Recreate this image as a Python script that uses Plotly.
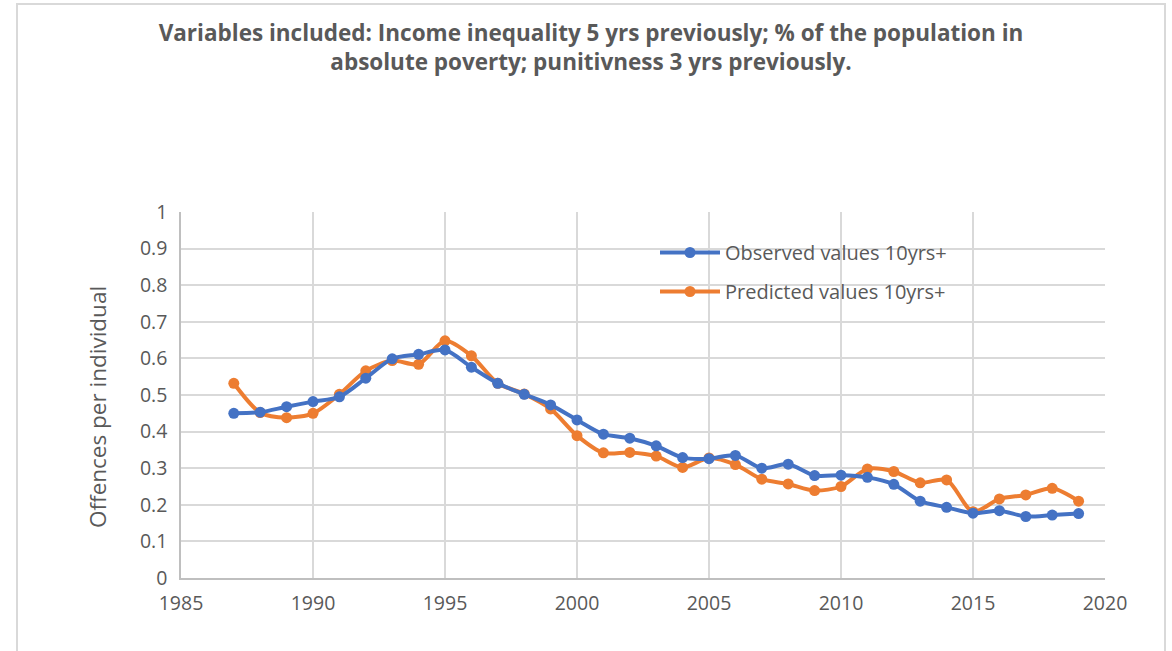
import plotly.graph_objects as go

# Years covered by the series
years = list(range(1987, 2020))

# Offences per individual, ages 10+
observed = [0.450, 0.453, 0.468, 0.482, 0.495, 0.546, 0.599, 0.611, 0.623, 0.576,
            0.532, 0.502, 0.473, 0.432, 0.393, 0.382, 0.361, 0.329, 0.326, 0.335,
            0.300, 0.311, 0.280, 0.281, 0.275, 0.256, 0.210, 0.193, 0.177, 0.184,
            0.168, 0.172, 0.176]
predicted = [0.532, 0.452, 0.438, 0.450, 0.502, 0.566, 0.594, 0.584, 0.648, 0.607,
             0.532, 0.503, 0.462, 0.389, 0.342, 0.343, 0.333, 0.302, 0.328, 0.310,
             0.270, 0.257, 0.239, 0.250, 0.298, 0.291, 0.260, 0.268, 0.181, 0.216,
             0.227, 0.245, 0.210]

series_names = ["Observed values 10yrs+", "Predicted values 10yrs+"]
series_colors = ["#4472C4", "#ED7D31"]

x_ticks = list(range(1985, 2021, 5))
y_ticks = [round(0.1 * i, 1) for i in range(11)]
y_tick_text = ["0", "0.1", "0.2", "0.3", "0.4", "0.5", "0.6", "0.7", "0.8", "0.9", "1"]

title_text = ("Variables included: Income inequality 5 yrs previously; % of the population in<br>"
              "absolute poverty; punitivness 3 yrs previously.")
y_title = "Offences per individual"

W, H = 1172, 651
font_family = "'Open Sans', sans-serif"
grey_text = "#595959"

fig = go.Figure()
# Predicted drawn first so the observed line sits on top; legend keeps observed first
series = list(zip(series_names, [observed, predicted], series_colors, [1, 2]))
for name, vals, color, rank in reversed(series):
    fig.add_trace(go.Scatter(
        x=years, y=vals, name=name, mode="lines+markers",
        legendgroup=name, legendrank=rank,
        line=dict(color=color, width=4, shape="spline", smoothing=0.8),
        marker=dict(color=color, size=11),
    ))

ml, mr, mt, mb = 181, 67, 212, 73
pw, ph = W - ml - mr, H - mt - mb

fig.update_layout(
    width=W, height=H,
    margin=dict(l=ml, r=mr, t=mt, b=mb),
    paper_bgcolor="white", plot_bgcolor="white",
    font=dict(family=font_family, color=grey_text, size=18),
    title=dict(
        text="<b>" + title_text + "</b>",
        x=591 / W, xanchor="center",
        y=1 - 41 / H, yanchor="middle",
        font=dict(family=font_family, size=22.5, color=grey_text),
    ),
    showlegend=True,
    legend=dict(
        x=(655 - ml) / pw, y=1 - (233 - mt) / ph,
        xanchor="left", yanchor="top",
        bgcolor="rgba(255,255,255,0)",
        font=dict(size=20, color=grey_text),
        traceorder="grouped",
        itemwidth=60,
        tracegroupgap=10,
    ),
    xaxis=dict(
        range=[1985, 2020], tickvals=x_ticks,
        showgrid=True, gridcolor="#d9d9d9", gridwidth=1.5,
        showline=True, linecolor="#bfbfbf", linewidth=1.5,
        zeroline=False, ticks="", ticklabelstandoff=7,
        tickfont=dict(size=19.5, color=grey_text),
    ),
    yaxis=dict(
        range=[0, 1], tickvals=y_ticks, ticktext=y_tick_text,
        showgrid=True, gridcolor="#d9d9d9", gridwidth=1.5,
        showline=True, linecolor="#bfbfbf", linewidth=1.5,
        zeroline=False, ticks="", ticklabelstandoff=8,
        tickfont=dict(size=19.5, color=grey_text),
    ),
)

# Vertical axis title
fig.add_annotation(
    text=y_title, textangle=-90, showarrow=False,
    xref="paper", yref="paper",
    x=(97 - ml) / pw, y=1 - (407 - mt) / ph,
    xanchor="center", yanchor="middle",
    font=dict(size=22.5, color=grey_text),
)

# Light frame around the whole chart area
fig.add_shape(
    type="rect", xref="paper", yref="paper",
    x0=(17 - ml) / pw, x1=(1165 - ml) / pw,
    y0=-(mb + 20) / ph, y1=1 + (mt - 4) / ph,
    line=dict(color="#d9d9d9", width=2), fillcolor="rgba(0,0,0,0)",
    layer="below",
)

fig.write_html("out.html")
